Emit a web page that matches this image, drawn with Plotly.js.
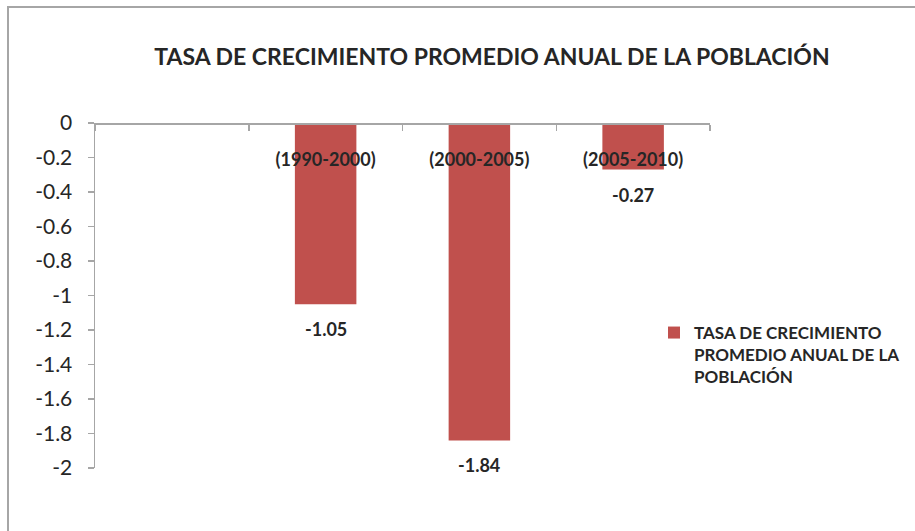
<!DOCTYPE html>
<html>
<head>
<meta charset="utf-8">
<script src="https://cdn.plot.ly/plotly-3.0.1.min.js"></script>
<style>
html,body{margin:0;padding:0;background:#fff;}
#wrap{position:relative;width:915px;height:531px;overflow:hidden;}
#chart{position:absolute;left:0;top:0;width:915px;height:531px;}
#frame{position:absolute;left:7px;top:6px;width:940px;height:560px;border-left:2px solid #a6a6a6;border-top:2px solid #a6a6a6;pointer-events:none;}
</style>
</head>
<body>
<div id="wrap"><div id="chart"></div><div id="frame"></div></div>
<script>
const chartTitle = 'TASA DE CRECIMIENTO PROMEDIO ANUAL DE LA POBLACIÓN';
const seriesName = 'TASA DE CRECIMIENTO<br>PROMEDIO ANUAL DE LA<br>POBLACIÓN';
const categories = [' ', '(1990-2000)', '(2000-2005)', '(2005-2010)'];
const values = [null, -1.05, -1.84, -0.27];
const valueLabels = ['', '-1.05', '-1.84', '-0.27'];
const yTickVals = [0, -0.2, -0.4, -0.6, -0.8, -1, -1.2, -1.4, -1.6, -1.8, -2];
const yTickText = ['0', '-0.2', '-0.4', '-0.6', '-0.8', '-1', '-1.2', '-1.4', '-1.6', '-1.8', '-2'];

const FONT = 'Lato, "Open Sans", sans-serif';
const TXT = '#262626';

const trace = {
  type: 'bar',
  x: categories,
  y: values,
  name: seriesName,
  width: 0.4,
  marker: {color: '#C0504D'},
  showlegend: true,
  hoverinfo: 'skip'
};

const annotations = [];
categories.forEach((c, i) => {
  if (values[i] === null) return;
  annotations.push({
    x: c, y: values[i], xref: 'x', yref: 'y',
    text: '<b>' + valueLabels[i] + '</b>',
    showarrow: false, yanchor: 'middle', yshift: -25,
    font: {family: FONT, size: 18, color: TXT}
  });
});

const layout = {
  width: 915, height: 531,
  margin: {l: 95, r: 205, t: 123, b: 63, pad: 0, autoexpand: false},
  paper_bgcolor: '#fff', plot_bgcolor: '#fff',
  title: {
    text: '<b>' + chartTitle + '</b>',
    xref: 'container', yref: 'container',
    x: 492/915, xanchor: 'center', y: 1 - 57/531, yanchor: 'middle',
    font: {family: FONT, size: 23, color: TXT}
  },
  xaxis: {
    type: 'category',
    categoryorder: 'array', categoryarray: categories,
    anchor: 'free', position: 1, side: 'bottom',
    showline: true, linecolor: '#a6a6a6', linewidth: 1.5,
    ticks: 'outside', ticklen: 6, tickcolor: '#a6a6a6', tickwidth: 1.5,
    tickson: 'boundaries',
    showgrid: false, zeroline: false,
    ticklabelstandoff: 20,
    tickfont: {family: FONT, size: 18, color: TXT, weight: 'bold'},
    fixedrange: true
  },
  yaxis: {
    range: [-2, 0],
    tickvals: yTickVals, ticktext: yTickText,
    showline: true, linecolor: '#a6a6a6', linewidth: 1.5,
    ticks: 'outside', ticklen: 6, tickcolor: '#a6a6a6', tickwidth: 1.5,
    showgrid: false, zeroline: false,
    ticklabelstandoff: 11,
    tickfont: {family: FONT, size: 21, color: TXT},
    fixedrange: true
  },
  legend: {
    x: (654-95)/615, xanchor: 'left',
    y: (468-315)/345, yanchor: 'top',
    valign: 'top',
    font: {family: FONT, size: 17, color: TXT, weight: 'bold'},
    bgcolor: 'rgba(0,0,0,0)', itemwidth: 30
  },
  annotations: annotations,
  bargap: 0.6
};

Plotly.newPlot('chart', [trace], layout, {displayModeBar: false, staticPlot: true});
</script>
</body>
</html>
